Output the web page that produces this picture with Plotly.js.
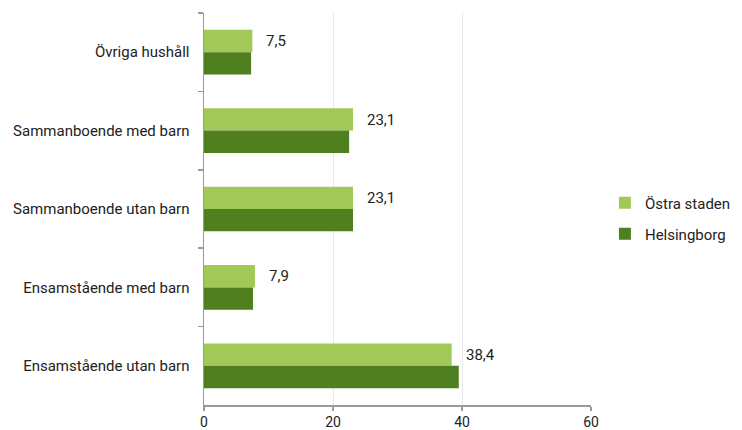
<!DOCTYPE html>
<html>
<head>
<meta charset="utf-8">
<script src="https://cdn.plot.ly/plotly-3.0.1.min.js"></script>
<style>html,body{margin:0;padding:0;background:#fff;}#chart{width:742px;height:430px;}</style>
</head>
<body>
<div id="chart"></div>
<script>
const categories = ["Övriga hushåll", "Sammanboende med barn", "Sammanboende utan barn", "Ensamstående med barn", "Ensamstående utan barn"];
const ostraStaden = [7.5, 23.1, 23.1, 7.9, 38.4];
const helsingborg = [7.3, 22.5, 23.1, 7.6, 39.5];
const seriesNames = ["Östra staden", "Helsingborg"];
const xTicks = [0, 20, 40, 60];

const lightGreen = "#a2c958";
const darkGreen = "#4f7f1e";
const fontFam = "Roboto, 'Open Sans', sans-serif";

const traces = [
  {type: "bar", orientation: "h", name: seriesNames[0], x: ostraStaden, y: categories,
   marker: {color: lightGreen}, legend: "legend", hoverinfo: "x"},
  {type: "bar", orientation: "h", name: seriesNames[1], x: helsingborg, y: categories,
   marker: {color: darkGreen}, legend: "legend2", hoverinfo: "x"}
];

const annotations = ostraStaden.map((v, i) => ({
  x: v, y: categories[i], xref: "x", yref: "y",
  text: v.toFixed(1).replace(".", ","), showarrow: false,
  xanchor: "left", yanchor: "middle", xshift: 12, yshift: 11,
  font: {family: fontFam, size: 15, color: "#222"}
}));

const legendFont = {family: fontFam, size: 15, color: "#222"};

const layout = {
  width: 742, height: 430,
  margin: {l: 204, r: 151, t: 13, b: 25, pad: 0, autoexpand: false},
  paper_bgcolor: "#fff", plot_bgcolor: "#fff",
  font: {family: fontFam, size: 15, color: "#222"},
  barmode: "group", bargap: 0.43, bargroupgap: 0,
  separators: ", ",
  xaxis: {range: [0, 60], tickvals: xTicks, ticktext: xTicks.map(String),
    showgrid: true, gridcolor: "#e8e8e8", gridwidth: 1, zeroline: false,
    showline: true, linecolor: "#9a9a9a", linewidth: 1.5,
    ticks: "outside", ticklen: 4, tickcolor: "#9a9a9a", tickwidth: 1.5,
    tickfont: {family: fontFam, size: 14, color: "#222"}, fixedrange: true},
  yaxis: {autorange: "reversed", type: "category", showgrid: false, zeroline: false,
    showline: true, linecolor: "#9a9a9a", linewidth: 1.5,
    ticks: "outside", ticklen: 5, tickcolor: "#9a9a9a", tickwidth: 1.5,
    tickson: "boundaries", ticklabelstandoff: 10,
    tickfont: {family: fontFam, size: 15, color: "#222"}, fixedrange: true},
  legend: {x: 1.036, xanchor: "left", y: 0.515, yanchor: "middle",
    font: legendFont, bgcolor: "rgba(0,0,0,0)"},
  legend2: {x: 1.036, xanchor: "left", y: 0.436, yanchor: "middle",
    font: legendFont, bgcolor: "rgba(0,0,0,0)"},
  annotations: annotations,
  showlegend: true
};

Plotly.newPlot("chart", traces, layout, {displayModeBar: false, staticPlot: true});
</script>
</body>
</html>
